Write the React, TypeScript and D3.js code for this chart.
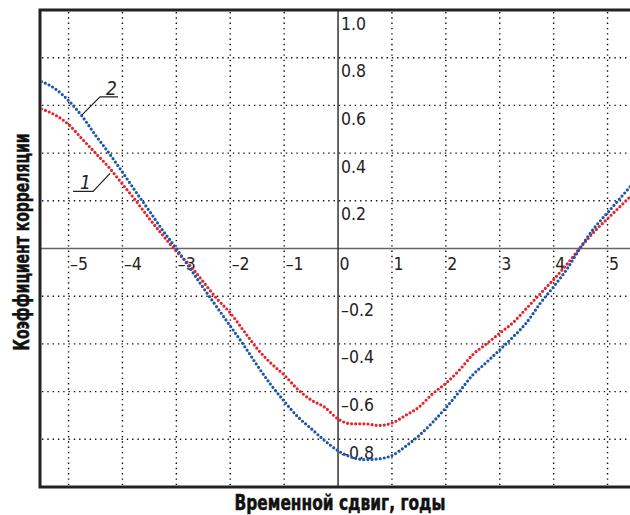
import { useMemo } from 'react'
import { scaleLinear, line, curveMonotoneX } from 'd3'

// Time shift, years (sampled every quarter year)
const lags = [
  -5.5, -5.25, -5, -4.75, -4.5, -4.25, -4, -3.75, -3.5, -3.25, -3, -2.75, -2.5, -2.25, -2, -1.75, -1.5,
  -1.25, -1, -0.75, -0.5, -0.25, 0, 0.25, 0.5, 0.75, 1, 1.25, 1.5, 1.75, 2, 2.25, 2.5, 2.75, 3, 3.25,
  3.5, 3.75, 4, 4.25, 4.5, 4.75, 5, 5.25, 5.5,
]

// Curve 1 (red)
const series1 = [
  0.585, 0.56, 0.52, 0.46, 0.4, 0.34, 0.27, 0.2, 0.125, 0.055, -0.012, -0.07, -0.14, -0.21, -0.27,
  -0.345, -0.42, -0.48, -0.53, -0.59, -0.635, -0.665, -0.715, -0.735, -0.735, -0.742, -0.732, -0.7,
  -0.665, -0.61, -0.565, -0.51, -0.445, -0.4, -0.355, -0.31, -0.25, -0.19, -0.13, -0.065, 0.005, 0.07,
  0.125, 0.18, 0.235,
]

// Curve 2 (blue)
const series2 = [
  0.7, 0.67, 0.62, 0.555, 0.475, 0.4, 0.32, 0.237, 0.157, 0.075, 0, -0.082, -0.165, -0.245, -0.325,
  -0.405, -0.49, -0.57, -0.64, -0.705, -0.755, -0.805, -0.848, -0.875, -0.885, -0.882, -0.868, -0.83,
  -0.785, -0.73, -0.668, -0.6, -0.53, -0.478, -0.425, -0.37, -0.31, -0.23, -0.16, -0.085, 0.005, 0.085,
  0.15, 0.215, 0.28,
]

const xTicks = [-5, -4, -3, -2, -1, 0, 1, 2, 3, 4, 5]
const yTicks = [1.0, 0.8, 0.6, 0.4, 0.2, -0.2, -0.4, -0.6, -0.8]
const gridY = [0.8, 0.6, 0.4, 0.2, -0.2, -0.4, -0.6, -0.8]

// curve labels: anchor on curve (data units)
const labels = [
  { text: '2', t: -4.75, r: 0.56 },
  { text: '1', t: -4.23, r: 0.315 },
]

const W = 630
const H = 515
const LEFT = 40
const TOP = 10
const BOTTOM = 487

const narrow = "'Liberation Sans Narrow', 'DejaVu Sans Condensed', 'DejaVu Sans', sans-serif"

export default function App() {
  const x = useMemo(() => scaleLinear().domain([-5.5, 5.5]).range([LEFT + 1.6, LEFT + 1.6 + 11 * 53.9]), [])
  const y = useMemo(() => scaleLinear().domain([-1, 1]).range([BOTTOM, TOP]), [])

  const pts1 = lags.map((t, i) => [t, series1[i]] as [number, number])
  const pts2 = lags.map((t, i) => [t, series2[i]] as [number, number])
  const gen = line<[number, number]>()
    .x((d) => x(d[0]))
    .y((d) => y(d[1]))
    .curve(curveMonotoneX)

  const fmt = (v: number) => (v < 0 ? '\u2013' + Math.abs(v) : String(v))
  const fmtY = (v: number) => (v < 0 ? '\u2013' : '') + Math.abs(v).toFixed(1)

  return (
    <svg
      width={W}
      height={H}
      style={{ position: 'absolute', left: 0, top: 0, background: '#fff' }}
    >
      <defs>
        <clipPath id="plot">
          <rect x={LEFT + 1.5} y={TOP + 1.5} width={W - LEFT} height={BOTTOM - TOP - 3} />
        </clipPath>
      </defs>

      {/* dotted grid */}
      <g stroke="#111" strokeWidth={1.4} strokeDasharray="1.4 3.9">
        {xTicks
          .filter((t) => t !== 0)
          .map((t) => (
            <line key={'gx' + t} x1={x(t)} x2={x(t)} y1={TOP + 2} y2={BOTTOM - 2} />
          ))}
        {gridY.map((v) => (
          <line key={'gy' + v} x1={LEFT + 2} x2={W} y1={y(v)} y2={y(v)} />
        ))}
      </g>

      {/* zero axes */}
      <line x1={LEFT} x2={W} y1={y(0)} y2={y(0)} stroke="#666" strokeWidth={1.6} />
      <line x1={x(0)} x2={x(0)} y1={TOP} y2={BOTTOM} stroke="#333" strokeWidth={1.5} />

      {/* frame */}
      <path
        d={`M${W},${TOP} H${LEFT} V${BOTTOM} H${W}`}
        fill="none"
        stroke="#222"
        strokeWidth={3}
      />

      {/* tick labels */}
      <g fontFamily={narrow} fontStretch="condensed" fontSize={17.5} fill="#222">
        {xTicks.map((t) => (
          <text key={'tx' + t} x={x(t) + 1.5} y={y(0) + 21}>
            {fmt(t)}
          </text>
        ))}
        {yTicks.map((v) => (
          <text key={'ty' + v} x={x(0) + 3} y={y(v) + 19.5}>
            {fmtY(v)}
          </text>
        ))}
      </g>

      {/* curves */}
      <g clipPath="url(#plot)" fill="none" strokeLinecap="round" strokeWidth={3.2} strokeDasharray="0 4.1">
        <path d={gen(pts1) ?? ''} stroke="#e8232b" />
        <path d={gen(pts2) ?? ''} stroke="#1c57a8" />
      </g>

      {/* curve labels with leaders */}
      <g fontFamily={narrow} fontStretch="condensed" fontSize={19} fontStyle="italic" fill="#222">
        {labels.map((l, i) => {
          const ax = x(l.t)
          const ay = y(l.r)
          const up = i === 0
          const ex = up ? ax + 18 : ax - 17
          const ey = up ? ay - 18 : ay + 18
          const hx = up ? ex + 18 : ex - 20
          return (
            <g key={l.text}>
              <path d={`M${ax},${ay} L${ex},${ey} H${hx}`} fill="none" stroke="#222" strokeWidth={1.2} />
              <text x={up ? ex + 6 : hx + 7} y={ey - 2}>
                {l.text}
              </text>
            </g>
          )
        })}
      </g>

      {/* axis titles */}
      <g
        fontFamily={narrow}
        fontStretch="condensed"
        fontWeight="bold"
        fontSize={21}
        fill="#111"
        stroke="#111"
        strokeWidth={0.5}
        textAnchor="middle"
      >
        <text x={340} y={510} textLength={211} lengthAdjust="spacingAndGlyphs">
          Временной сдвиг, годы
        </text>
        <text
          transform="translate(29,242) rotate(-90)"
          textLength={217}
          lengthAdjust="spacingAndGlyphs"
        >
          Коэффициент корреляции
        </text>
      </g>
    </svg>
  )
}
